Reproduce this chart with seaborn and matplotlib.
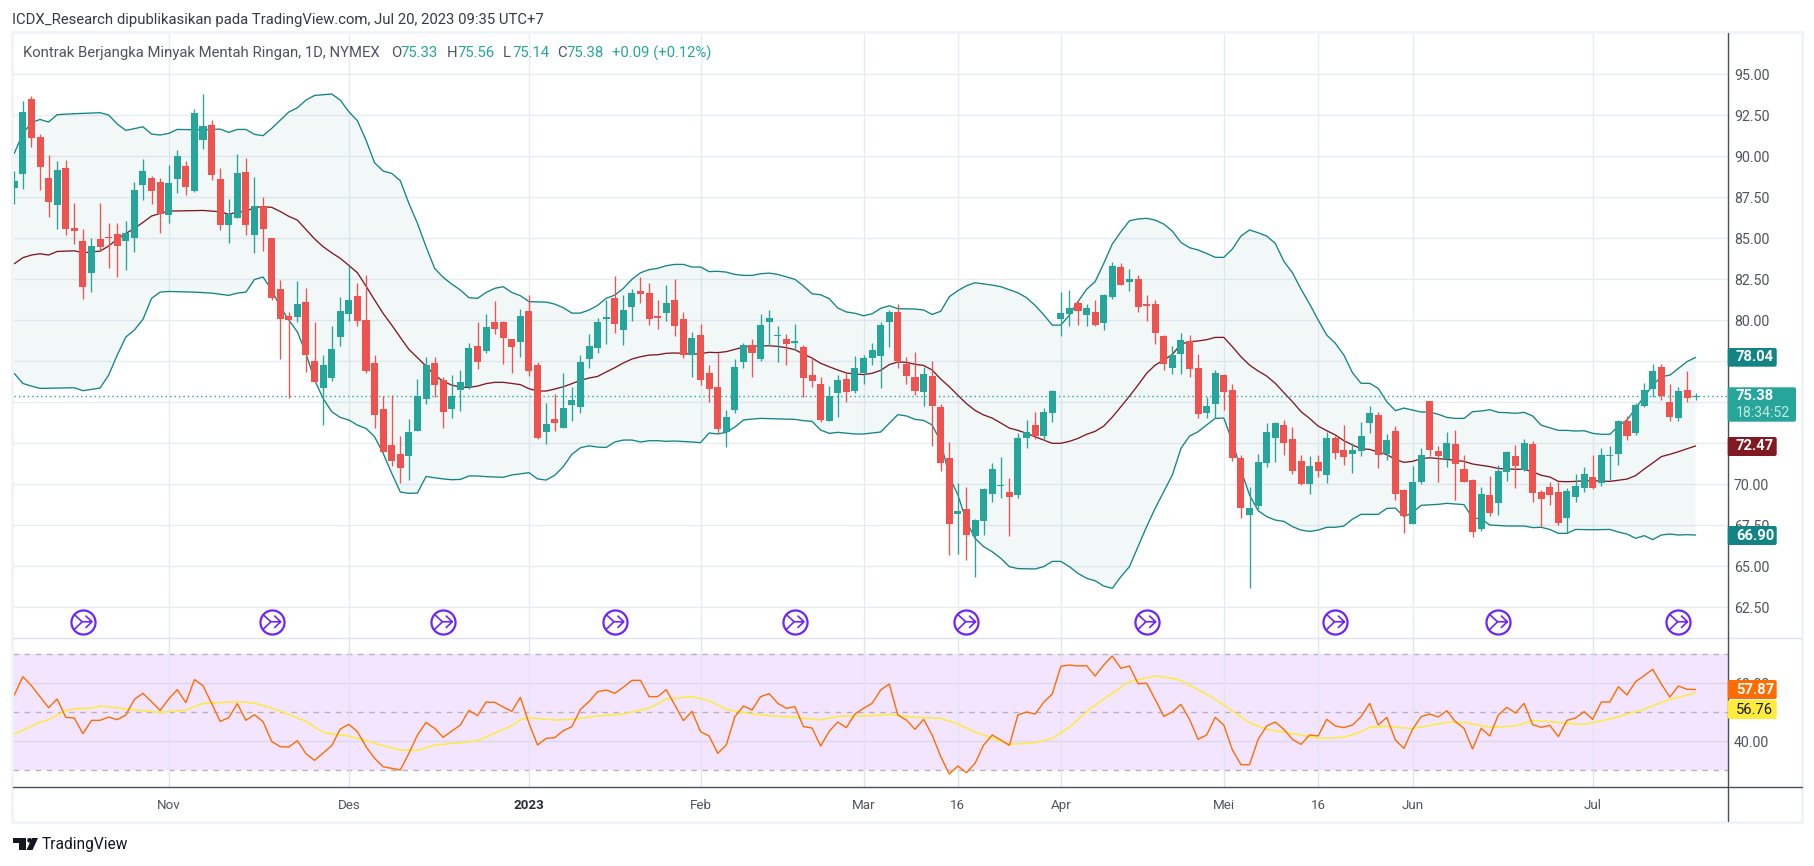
# -*- coding: utf-8 -*-
import matplotlib
matplotlib.use("Agg")
import matplotlib.pyplot as plt
from matplotlib.patches import FancyBboxPatch, Rectangle, Circle, Polygon
from matplotlib.path import Path
import pandas as pd
import seaborn as sns

# daily candles
opens = [88.06, 88.92, 93.49, 91.17, 88.67, 87.03, 89.28, 85.63, 84.83, 82.88,
         84.95, 85.08, 85.26, 84.83, 85.02, 88.25, 88.67, 88.43, 86.42, 88.61,
         89.41, 87.88, 91.00, 91.91, 88.61, 85.81, 86.24, 89.04, 85.20, 86.97,
         85.02, 81.91, 80.26, 80.20, 81.11, 77.52, 75.87, 76.48, 78.98, 80.38,
         81.48, 80.02, 77.39, 74.59, 72.39, 71.84, 71.72, 73.25, 75.20, 77.39,
         76.36, 74.59, 75.75, 75.93, 78.43, 78.12, 79.90, 79.90, 78.86, 78.68,
         80.57, 77.27, 73.19, 73.98, 73.43, 74.84, 74.71, 77.64, 78.31, 80.08,
         81.36, 79.41, 80.81, 81.79, 81.66, 80.26, 80.44, 81.24, 80.08, 77.88,
         79.10, 76.79, 75.93, 73.19, 74.53, 77.46, 78.49, 77.64, 79.90, 79.04,
         78.86, 78.62, 78.37, 76.66, 76.11, 73.86, 75.57, 76.42, 75.69, 76.79,
         77.70, 77.82, 79.90, 80.50, 77.33, 76.54, 75.63, 76.60, 74.71, 71.60,
         68.19, 68.49, 66.85, 67.76, 69.41, 69.90, 69.53, 69.35, 72.82, 73.62,
         72.94, 74.35, 80.08, 80.38, 81.05, 80.32, 80.50, 79.84, 81.42, 83.25,
         82.33, 82.52, 80.99, 80.99, 79.04, 77.09, 77.94, 78.74, 77.09, 74.35,
         74.90, 76.66, 75.75, 71.60, 68.13, 68.68, 71.30, 72.82, 73.62, 72.76,
         71.42, 70.02, 71.36, 70.57, 72.82, 72.09, 71.85, 72.03, 73.74, 74.23,
         71.85, 73.25, 69.65, 67.58, 70.14, 75.08, 72.03, 71.54, 72.46, 70.93,
         70.26, 67.27, 69.35, 68.86, 70.75, 71.73, 70.87, 72.46, 69.53, 69.84,
         69.53, 67.95, 69.23, 69.77, 70.45, 70.08, 71.73, 71.85, 73.86, 73.13,
         74.77, 75.81, 77.15, 75.02, 74.04, 75.75, 75.33]
highs = [89.10, 93.37, 93.67, 91.36, 90.08, 89.71, 89.77, 87.15, 85.56, 85.02,
         87.15, 85.93, 85.93, 86.05, 88.43, 89.83, 88.80, 88.67, 89.47, 90.38,
         89.71, 92.88, 93.80, 92.21, 89.28, 87.39, 90.14, 89.89, 88.74, 87.52,
         85.02, 82.45, 80.50, 82.39, 81.97, 79.89, 77.88, 79.65, 81.42, 83.31,
         82.27, 82.76, 77.88, 75.38, 75.44, 72.94, 73.98, 76.42, 77.76, 77.76,
         76.54, 76.66, 76.97, 78.62, 79.90, 80.38, 81.18, 79.96, 78.86, 80.69,
         81.54, 77.46, 74.96, 75.51, 76.79, 75.93, 77.88, 79.17, 80.14, 81.24,
         82.70, 81.54, 81.91, 82.64, 82.27, 81.24, 82.15, 82.52, 80.50, 79.29,
         79.77, 77.27, 78.01, 74.53, 77.64, 78.62, 78.86, 80.38, 80.63, 79.65,
         79.17, 79.77, 78.49, 77.70, 76.54, 75.99, 76.66, 76.85, 77.82, 77.88,
         78.62, 79.90, 80.63, 80.99, 77.76, 78.07, 77.15, 77.52, 74.90, 72.58,
         70.06, 69.84, 67.88, 69.77, 71.30, 71.66, 70.38, 73.13, 73.92, 74.41,
         74.65, 75.75, 81.72, 81.85, 81.24, 80.99, 81.24, 81.60, 83.55, 83.49,
         83.13, 82.76, 81.54, 81.24, 79.10, 78.43, 79.22, 79.10, 77.94, 75.32,
         76.97, 76.73, 76.11, 71.79, 69.84, 71.85, 73.74, 73.80, 73.92, 73.49,
         71.79, 71.73, 71.79, 73.19, 72.95, 73.62, 72.52, 73.80, 74.77, 74.41,
         73.07, 73.55, 69.71, 71.12, 72.21, 75.08, 72.34, 73.19, 73.31, 71.79,
         70.32, 69.84, 70.51, 71.18, 72.03, 72.40, 72.76, 72.64, 69.65, 70.14,
         70.14, 69.77, 70.63, 71.05, 71.79, 72.21, 72.34, 73.92, 74.17, 74.96,
         76.18, 77.33, 77.33, 76.12, 75.93, 76.91, 75.56]
lows = [87.09, 88.00, 90.56, 87.94, 86.30, 85.56, 85.20, 84.65, 81.30, 81.72,
        84.22, 83.19, 82.64, 83.06, 84.16, 87.33, 87.09, 85.32, 85.93, 87.76,
        87.64, 87.82, 90.44, 88.55, 85.50, 84.71, 86.24, 85.20, 84.10, 84.22,
        81.24, 77.64, 75.26, 79.89, 76.85, 76.24, 73.61, 76.30, 78.43, 79.95,
        79.65, 76.78, 73.43, 71.97, 71.11, 70.08, 70.26, 73.25, 74.89, 75.32,
        73.43, 74.04, 74.47, 75.81, 77.03, 78.01, 79.17, 77.33, 76.79, 77.76,
        76.60, 72.76, 72.46, 73.25, 73.43, 73.86, 74.35, 77.09, 78.01, 78.55,
        79.22, 78.49, 79.96, 81.05, 79.71, 79.47, 79.96, 79.04, 77.70, 76.54,
        76.05, 75.02, 73.13, 72.27, 74.35, 77.09, 76.54, 77.52, 78.43, 77.46,
        77.27, 78.19, 75.32, 75.93, 73.80, 73.86, 74.10, 75.02, 75.57, 76.11,
        77.27, 75.87, 78.37, 77.09, 76.11, 75.45, 74.77, 72.34, 70.81, 65.69,
        65.75, 65.38, 64.35, 66.91, 68.92, 69.16, 66.85, 69.16, 72.21, 72.76,
        72.70, 73.80, 79.04, 79.65, 79.71, 79.65, 79.65, 79.41, 81.30, 82.15,
        81.79, 80.50, 79.96, 78.55, 76.97, 76.73, 76.73, 76.54, 74.04, 74.04,
        74.04, 74.53, 71.42, 67.95, 63.68, 68.49, 71.05, 71.36, 71.79, 70.63,
        69.96, 69.41, 70.44, 70.08, 71.54, 71.18, 70.69, 71.73, 73.13, 70.99,
        71.48, 69.04, 67.03, 67.58, 70.02, 71.73, 70.14, 71.05, 69.04, 70.14,
        66.79, 67.15, 68.07, 68.13, 70.20, 69.77, 70.81, 68.92, 67.40, 68.74,
        67.52, 67.03, 68.92, 69.53, 69.71, 69.90, 70.26, 71.18, 72.70, 73.01,
        74.71, 75.32, 75.14, 73.86, 73.86, 75.02, 75.14]
closes = [88.49, 92.70, 91.11, 89.34, 87.21, 89.16, 85.56, 85.44, 82.03, 84.53,
          84.47, 85.02, 84.53, 85.32, 87.94, 89.10, 87.88, 86.48, 88.37, 90.02,
          88.13, 92.64, 91.85, 88.86, 85.81, 86.48, 88.98, 85.81, 86.97, 85.56,
          81.36, 80.08, 80.02, 80.99, 77.88, 76.24, 77.27, 78.25, 80.56, 81.24,
          79.95, 76.90, 74.22, 71.97, 71.42, 70.99, 73.19, 75.38, 77.27, 76.05,
          74.41, 75.38, 76.24, 78.31, 77.46, 79.59, 79.47, 78.92, 78.37, 80.26,
          76.91, 72.82, 73.68, 73.74, 74.65, 75.14, 77.46, 78.43, 79.90, 80.20,
          79.77, 80.63, 81.66, 81.60, 80.08, 80.14, 81.05, 79.65, 77.88, 78.92,
          76.36, 75.81, 73.37, 74.10, 77.15, 78.49, 78.01, 79.71, 80.14, 79.10,
          78.55, 78.74, 76.48, 76.30, 73.92, 75.38, 76.36, 75.63, 77.09, 77.70,
          78.19, 79.71, 80.50, 77.52, 76.60, 75.69, 76.73, 74.77, 71.30, 67.58,
          68.37, 66.91, 67.82, 69.71, 70.93, 69.96, 69.22, 72.82, 73.19, 72.94,
          74.41, 75.69, 80.44, 80.75, 80.57, 80.75, 79.71, 81.54, 83.31, 82.15,
          82.52, 80.81, 80.87, 79.22, 77.33, 77.88, 78.80, 77.03, 74.29, 74.77,
          76.79, 75.63, 71.60, 68.55, 68.55, 71.36, 73.19, 73.74, 72.52, 70.81,
          70.02, 71.12, 70.81, 72.82, 71.91, 71.67, 72.09, 72.95, 74.35, 71.79,
          72.70, 69.41, 68.07, 70.14, 71.79, 72.09, 71.73, 72.52, 71.24, 70.14,
          67.09, 69.41, 68.25, 70.81, 71.97, 71.12, 72.52, 69.47, 69.10, 69.35,
          67.64, 69.59, 69.90, 70.63, 69.77, 71.79, 71.79, 73.86, 72.95, 74.83,
          75.75, 76.91, 75.38, 74.10, 75.69, 75.26, 75.38]

# Bollinger bands: bar number and value of each vertex
upper_idx = [0, 1, 2, 3, 4, 5, 7, 10, 11, 12, 13, 15, 16, 17, 18, 19, 21, 22, 24, 25, 26, 27, 28, 29, 30, 32, 33, 34, 35, 37,
             38, 39, 40, 41, 42, 43, 44, 45, 46, 47, 48, 49, 50, 51, 52, 53, 54, 55, 56, 57, 58, 59, 60, 62, 63, 64, 65, 66, 67, 68,
             69, 70, 71, 72, 73, 74, 75, 76, 77, 78, 79, 80, 81, 82, 83, 84, 85, 86, 87, 88, 89, 91, 92, 93, 94, 95, 96, 97, 98, 99,
             100, 101, 102, 103, 105, 106, 107, 108, 109, 110, 111, 112, 114, 115, 117, 118, 119, 120, 121, 122, 123, 124, 125, 126,
             127, 128, 129, 130, 131, 132, 133, 134, 135, 136, 137, 138, 139, 140, 141, 142, 143, 144, 145, 146, 147, 148, 149, 150,
             151, 152, 153, 154, 155, 156, 157, 158, 159, 160, 161, 162, 163, 164, 165, 166, 167, 168, 169, 170, 171, 172, 173, 174,
             175, 176, 177, 178, 179, 180, 181, 182, 183, 184, 185, 186, 187, 188, 189, 190, 191, 192, 193, 194, 195, 196]
upper_vals = [90.18, 91.40, 92.05, 92.25, 92.09, 92.54, 92.60, 92.66, 92.52, 91.97, 91.58, 91.80, 91.36, 91.30, 91.40, 91.64,
              91.62, 91.62, 91.66, 91.46, 91.64, 91.64, 91.34, 91.26, 91.70, 92.70, 92.96, 93.43, 93.71, 93.80,
              93.43, 92.72, 92.17, 90.99, 89.61, 89.10, 88.96, 88.51, 87.13, 85.91, 84.49, 83.17, 82.62, 82.21, 81.85, 81.38,
              81.34, 81.70, 81.95, 82.05, 81.70, 81.50, 81.14, 81.11, 80.99, 80.77, 80.44, 80.44, 80.63, 80.91,
              81.34, 81.54, 81.95, 82.50, 82.90, 83.09, 83.17, 83.33, 83.41, 83.41, 83.25, 83.25, 82.97, 82.99, 82.94, 82.80,
              82.74, 82.74, 82.84, 82.88, 82.80, 82.50, 82.09, 81.62, 81.56, 81.32, 80.75, 80.51, 80.43, 80.28,
              80.40, 80.73, 80.89, 80.71, 80.69, 80.63, 80.36, 80.55, 81.44, 81.81, 82.11, 82.29, 82.15, 82.05, 81.68, 81.38,
              80.91, 80.34, 79.71, 79.71, 80.32, 81.14, 81.89, 82.36,
              83.47, 84.65, 85.40, 86.07, 86.18, 86.22, 86.11, 85.87, 85.44, 84.75, 84.43, 84.29, 84.08, 83.84, 83.84, 84.35,
              85.14, 85.51, 85.34, 85.14, 84.69, 83.60, 82.90, 81.90,
              81.00, 80.02, 79.10, 78.60, 77.88, 76.80, 76.16, 76.16, 75.85, 75.04, 74.49, 74.65, 74.53, 74.41, 74.41, 74.27,
              74.08, 74.02, 74.02, 74.43, 74.47, 74.55, 74.39, 74.37,
              74.33, 74.39, 74.17, 73.60, 73.45, 73.29, 73.29, 73.25, 73.27, 73.11, 73.05, 73.05, 73.55, 73.92, 74.63, 75.34,
              76.05, 76.56, 76.66, 77.07, 77.48, 77.74]
middle_idx = [0, 1, 2, 3, 4, 5, 7, 8, 10, 11, 12, 13, 14, 15, 16, 17, 18, 22, 24, 25, 26, 27, 28, 29, 30, 31, 32, 33, 34, 35,
              36, 37, 38, 39, 40, 41, 42, 43, 44, 45, 46, 47, 48, 49, 50, 51, 52, 53, 54, 55, 56, 57, 59, 60, 61, 62, 63, 64, 65, 66,
              67, 68, 69, 70, 71, 72, 73, 74, 75, 76, 77, 78, 79, 80, 81, 82, 83, 84, 85, 86, 88, 89, 90, 91, 92, 93, 94, 95, 96, 97,
              98, 99, 100, 101, 102, 103, 104, 105, 106, 107, 108, 109, 110, 111, 112, 113, 114, 115, 116, 117, 118, 119, 120, 121,
              122, 123, 124, 125, 126, 127, 128, 129, 130, 131, 132, 133, 134, 135, 136, 137, 138, 139, 140, 141, 142, 143, 144, 145,
              146, 147, 148, 149, 150, 151, 152, 153, 154, 155, 156, 157, 158, 159, 160, 161, 162, 163, 164, 165, 167, 169, 170, 172,
              173, 174, 176, 177, 178, 179, 180, 181, 182, 183, 184, 186, 188, 189, 190, 191, 192, 193, 194, 195, 196]
middle_vals = [83.45, 83.82, 83.98, 84.06, 83.98, 84.20, 84.24, 84.12, 84.22, 84.53, 84.95, 85.30, 85.60, 85.97, 86.36, 86.52,
               86.66, 86.70, 86.62, 86.46, 86.60, 86.64, 86.89, 86.93, 86.89, 86.64, 86.34, 86.11, 85.54, 84.97,
               84.49, 84.12, 83.78, 83.35, 82.90, 82.09, 81.24, 80.42, 79.71, 78.96, 78.23, 77.72, 77.21, 76.66, 76.28, 76.05,
               75.93, 75.91, 75.99, 76.14, 76.22, 76.22, 76.08, 75.83, 75.69, 75.69, 75.81, 75.95, 76.14, 76.34,
               76.48, 76.58, 76.85, 77.11, 77.40, 77.64, 77.78, 77.88, 77.90, 77.99, 78.01, 77.99, 77.94, 77.97, 78.05, 78.03,
               78.09, 78.23, 78.37, 78.43, 78.45, 78.41, 78.33, 78.21, 77.94, 77.70, 77.38, 77.17, 76.97, 76.79,
               76.73, 76.69, 76.77, 76.95, 77.30, 77.46, 77.44, 77.32, 77.25, 76.97, 76.42, 75.95, 75.43, 74.92, 74.51, 74.23,
               74.04, 73.74, 73.43, 73.29, 73.11, 72.90, 72.70, 72.50,
               72.50, 72.62, 72.80, 73.05, 73.23, 73.55, 74.10, 74.73, 75.38, 76.05, 76.77, 77.27, 77.58, 77.92, 78.55, 78.70,
               78.74, 78.82, 78.96, 78.96, 78.39, 77.78, 77.27, 76.91,
               76.60, 76.16, 75.59, 75.04, 74.43, 74.02, 73.55, 73.27, 73.01, 72.66, 72.40, 72.17, 72.13, 71.97, 71.81, 71.52,
               71.34, 71.40, 71.56, 71.62, 71.52, 71.40, 71.24, 71.08,
               70.97, 70.93, 70.91, 70.77, 70.55, 70.45, 70.18, 70.16, 70.18, 70.22, 70.22, 70.18, 70.32, 70.53, 70.93, 71.30,
               71.69, 71.83, 71.99, 72.17, 72.34]
lower_idx = [0, 1, 2, 3, 7, 8, 10, 11, 12, 13, 14, 15, 16, 17, 18, 21, 23, 25, 26, 27, 28, 29, 30, 31, 32, 33, 34, 35, 36, 37,
             38, 39, 40, 41, 42, 43, 44, 45, 46, 47, 48, 49, 50, 51, 52, 53, 54, 55, 56, 57, 58, 60, 61, 62, 63, 64, 65, 66, 67, 68,
             69, 70, 71, 72, 73, 74, 75, 76, 77, 79, 80, 81, 82, 83, 84, 85, 86, 87, 91, 92, 93, 94, 95, 96, 98, 99, 101, 102, 103, 104,
             105, 106, 107, 108, 109, 110, 111, 112, 113, 114, 115, 116, 117, 119, 120, 121, 122, 123, 124, 125, 126, 127, 128, 129,
             130, 131, 132, 133, 134, 135, 136, 137, 138, 139, 140, 141, 142, 143, 144, 145, 146, 147, 148, 149, 150, 151, 152, 153,
             154, 155, 156, 157, 159, 160, 161, 162, 163, 164, 166, 167, 169, 170, 171, 172, 174, 176, 177, 178, 179, 180, 181, 182,
             184, 186, 187, 188, 189, 190, 191, 192, 193, 194, 195, 196]
lower_vals = [76.76, 76.15, 75.99, 75.85, 75.89, 75.71, 75.87, 76.66, 77.88, 78.98, 79.41, 80.06, 81.34, 81.72, 81.76, 81.72,
              81.66, 81.52, 81.66, 81.72, 82.49, 82.64, 81.85, 80.83, 80.02, 79.30, 77.98, 76.36, 75.24, 74.43,
              74.08, 73.92, 73.61, 73.41, 72.90, 71.89, 70.67, 69.53, 69.45, 69.47, 70.48, 70.40, 70.33, 70.28, 70.30, 70.51,
              70.51, 70.47, 70.45, 70.43, 70.57, 70.71, 70.33, 70.26, 70.55, 71.08, 71.83, 72.23, 72.35, 72.27,
              72.25, 72.58, 72.70, 72.70, 72.58, 72.66, 72.66, 72.62, 72.64, 72.58, 72.54, 73.13, 73.07, 73.17, 73.49, 73.92,
              73.98, 74.02, 73.96, 73.88, 73.84, 73.31, 73.11, 73.17, 73.07, 73.07, 73.19, 73.72, 74.25, 74.17,
              73.96, 73.90, 73.62, 72.60, 70.47, 69.35, 67.72, 66.71, 66.20, 65.89, 65.49, 64.98, 64.86, 64.84, 64.98, 65.30,
              65.30, 64.98, 64.57, 64.27, 64.12, 63.80, 63.66, 64.37,
              64.98, 66.20, 67.42, 68.54, 69.55, 70.57, 72.19, 72.94, 73.21, 73.62, 74.02, 74.04, 72.60, 70.87, 69.35, 68.39,
              68.03, 67.82, 67.74, 67.42, 67.21, 67.13, 67.21, 67.38,
              67.38, 67.46, 67.88, 68.17, 68.17, 68.53, 68.55, 68.03, 68.27, 68.72, 68.78, 68.84, 68.76, 67.94, 67.90, 67.52,
              67.46, 67.46, 67.36, 67.38, 67.25, 67.01, 67.01, 67.25,
              67.23, 67.25, 67.09, 66.97, 66.71, 66.87, 66.63, 66.91, 66.97, 66.91, 66.93, 66.91]

# RSI per bar and its moving average
rsi_vals = [55.96, 62.28, 59.18, 55.38, 51.59, 54.58, 48.26, 48.03, 42.63, 47.22,
            47.22, 48.37, 47.45, 49.06, 54.46, 56.53, 53.66, 50.67, 54.58, 57.80,
            53.31, 61.25, 59.18, 53.09, 46.88, 48.14, 52.97, 47.22, 49.18, 46.76,
            39.98, 38.14, 38.03, 40.21, 35.73, 33.43, 35.96, 38.49, 44.23, 45.84,
            43.32, 38.14, 34.12, 31.25, 30.67, 30.10, 35.84, 42.17, 46.53, 44.47,
            41.36, 43.54, 45.61, 50.67, 48.83, 53.55, 53.43, 51.82, 50.33, 55.15,
            46.19, 38.72, 41.02, 41.25, 43.67, 45.05, 51.02, 53.67, 57.11, 57.69,
            56.54, 58.61, 61.02, 61.02, 55.39, 55.39, 57.80, 52.52, 47.11, 50.33,
            43.32, 41.83, 35.85, 38.72, 48.49, 52.17, 50.79, 55.39, 56.42, 53.09,
            51.37, 51.94, 45.05, 44.59, 38.38, 43.44, 46.66, 44.70, 49.41, 51.37,
            53.09, 57.69, 59.76, 49.07, 47.34, 44.13, 47.57, 42.17, 34.70, 28.72,
            31.48, 29.18, 32.40, 38.72, 42.17, 40.45, 38.61, 49.07, 50.10, 49.41,
            53.44, 56.31, 65.85, 66.31, 65.97, 66.08, 62.52, 66.31, 69.41, 65.16,
            65.97, 59.87, 59.99, 54.47, 48.61, 50.10, 52.75, 47.57, 40.68, 42.17,
            48.26, 45.62, 37.00, 31.94, 31.94, 40.68, 45.28, 46.66, 44.13, 40.68,
            38.95, 42.17, 41.83, 47.57, 45.28, 44.70, 45.62, 48.49, 53.09, 45.62,
            48.26, 40.45, 37.57, 44.13, 48.49, 49.41, 48.38, 50.56, 46.77, 44.47,
            37.34, 44.47, 41.83, 49.07, 51.71, 49.76, 53.09, 45.74, 44.82, 45.51,
            41.60, 47.23, 48.03, 50.22, 47.57, 53.55, 53.55, 58.84, 55.97, 60.56,
            62.63, 64.82, 59.76, 55.28, 59.07, 57.92, 57.87]
rsi_ma_idx = [0, 3, 4, 6, 7, 9, 10, 15, 17, 20, 22, 26, 28, 31, 34, 36, 39, 43, 45, 47, 49, 52, 54, 58, 59, 60,
              63, 65, 68, 71, 74, 76, 79, 81, 83, 86, 88, 91, 94, 96, 100, 102, 105, 108, 110, 112, 116, 119, 121,
              123, 125, 127, 130, 133, 135, 136, 139, 140, 144, 146, 150, 152, 155, 157, 158, 160, 163, 167, 169,
              172, 175, 177, 179, 182, 183, 186, 190, 192, 193, 195, 196]
rsi_ma_vals = [42.51, 46.53, 47.45, 50.56, 51.25, 51.36, 52.17, 50.56, 49.98, 50.79, 53.09, 53.66, 53.20, 50.44, 46.88,
               42.97, 41.82, 38.49, 36.99, 36.88, 38.72, 39.52, 40.21, 45.38, 47.45, 48.14,
               47.34, 47.57, 48.72, 49.41, 51.37, 54.59, 55.39, 54.01, 51.02, 49.41, 48.84, 48.26, 47.34, 48.61, 48.84,
               49.30, 48.26, 47.92, 45.97, 43.21, 38.95, 39.53, 41.02,
               44.82, 50.22, 54.59, 60.56, 62.52, 61.71, 60.91, 56.20, 54.47, 46.43, 44.13, 42.17, 41.02, 41.37, 43.32,
               44.82, 45.16, 44.36, 46.54, 46.54,
               44.82, 45.28, 47.11, 46.77, 45.97, 45.85, 47.69, 51.02, 53.44, 54.47, 55.97, 56.76]

# axis labels and events
month_idx = [18, 39, 60, 80, 99, 110, 122, 141, 152, 163, 184]
month_labels = ["Nov", "Des", "2023", "Feb", "Mar", "16", "Apr", "Mei", "16", "Jun", "Jul"]
price_ticks = [62.5, 65, 67.5, 70, 72.5, 75, 77.5, 80, 82.5, 85, 87.5, 90, 92.5, 95]
# these three sit fully under a price tag, so the picture shows no text for them
hidden_ticks = [72.5, 75, 77.5]
rsi_ticks = [40, 60]
event_idx = [8, 30, 50, 70, 91, 111, 132, 154, 173, 194]
event_price = 61.62
last_price = 75.38

UP = "#26A69A"
DOWN = "#EF5350"
BAND = "#138484"
MID = "#801922"
GRID = "#E6EDF2"
TEXT = "#50535E"

sns.set_theme(style="white")
plt.rcParams["font.family"] = ["Roboto", "DejaVu Sans"]

W, H = 1815, 866
fig = plt.figure(figsize=(W / 100, H / 100), dpi=100, facecolor="white")


def pane(left, top, right, bottom):
    """ Axes placed by pixel edges """
    return fig.add_axes([left / W, 1 - bottom / H, (right - left) / W, (bottom - top) / H])


def pill(x, top, right, bottom, color):
    """ Price tag on the right axis """
    ov.add_patch(FancyBboxPatch((x, top), right - x, bottom - top,
                                boxstyle="round,pad=0,rounding_size=2",
                                fc=color, ec="none", zorder=6))


ax = pane(13, 33, 1727.7, 638)
ax_rsi = pane(13, 638, 1727.7, 787)

df = pd.DataFrame({"open": opens, "high": highs, "low": lows, "close": closes})
df["bar"] = df.index
bar_colors = [UP if c >= o else DOWN for o, c in zip(df["open"], df["close"])]

# band fill first, lines next, candles on top
ax.fill(upper_idx + lower_idx[::-1], upper_vals + lower_vals[::-1],
        color=BAND, alpha=0.05, lw=0, zorder=1)
sns.lineplot(x=upper_idx, y=upper_vals, ax=ax, color=BAND, lw=0.95, zorder=2)
sns.lineplot(x=lower_idx, y=lower_vals, ax=ax, color=BAND, lw=0.95, zorder=2)
sns.lineplot(x=middle_idx, y=middle_vals, ax=ax, color=MID, lw=0.95, zorder=2)
ax.plot([df["bar"].iloc[0], 210], [last_price, last_price], color=UP, lw=1.0,
        ls=(0, (1, 2.2)), zorder=2.5)
ax.vlines(df["bar"], df["low"], df["high"], colors=bar_colors, lw=0.95, zorder=3)
ax.bar(df["bar"], (df["close"] - df["open"]).abs(), bottom=df[["open", "close"]].min(axis=1),
       width=0.82, color=bar_colors, lw=0, zorder=4)

# the purple event badges
glyph = Path([(-0.62, 0.52), (-0.05, 0.0), (-0.62, -0.55), (-0.05, 0.0), (0.62, 0.0),
              (0.18, 0.42), (0.62, 0.0), (0.18, -0.42)],
             [Path.MOVETO, Path.LINETO, Path.MOVETO, Path.LINETO, Path.LINETO,
              Path.MOVETO, Path.LINETO, Path.LINETO])
ax.scatter(event_idx, [event_price] * len(event_idx), s=300, facecolor="white",
           edgecolor="#6E24FF", lw=1.6, zorder=5)
ax.scatter(event_idx, [event_price] * len(event_idx), s=170, marker=glyph, facecolor="none",
           edgecolor="#6E24FF", lw=1.2, zorder=6)

ax.set_xlim(-0.15, 199.74)
ax.set_ylim(60.63, 97.52)
ax.set_xticks(month_idx)
ax.set_xticklabels([])
ax.set_yticks(price_ticks)
ax.set_yticklabels(["" if p in hidden_ticks else "%.2f" % p for p in price_ticks],
                   fontsize=10.2, color=TEXT)
ax.yaxis.tick_right()
ax.tick_params(axis="both", length=0, pad=4.5)
ax.grid(True, color=GRID, lw=1.0)
ax.set_axisbelow(True)

# RSI pane
ax_rsi.axhspan(30, 70, color="#F3E5FD", lw=0, zorder=0)
for level in [40, 60]:
    ax_rsi.axhline(level, color="#DDD6F0", lw=1.0, zorder=1)
for level in [30, 50, 70]:
    ax_rsi.axhline(level, color="#B8B0C2", lw=1.0, ls=(0, (4, 4)), zorder=1)
for m in month_idx:
    ax_rsi.axvline(m, color="#E0E3F2", lw=1.0, zorder=1)
sns.lineplot(x=rsi_ma_idx, y=rsi_ma_vals, ax=ax_rsi, color="#FFEB3B", lw=1.1, zorder=2)
sns.lineplot(x=df["bar"].tolist(), y=rsi_vals, ax=ax_rsi, color="#FF6D00", lw=1.0, zorder=3)
ax_rsi.set_xlim(-0.15, 199.74)
ax_rsi.set_ylim(24.24, 75.62)
ax_rsi.set_xticks(month_idx)
ax_rsi.set_xticklabels(month_labels, fontsize=9.6, color=TEXT)
for lab in ax_rsi.get_xticklabels():
    if lab.get_text() == "2023":
        lab.set_fontweight("bold")
        lab.set_color("#2A2E39")
ax_rsi.set_yticks(rsi_ticks)
ax_rsi.set_yticklabels(["%.2f" % p for p in rsi_ticks], fontsize=10.2, color=TEXT)
ax_rsi.yaxis.tick_right()
ax_rsi.tick_params(axis="y", length=0, pad=4.5)
ax_rsi.tick_params(axis="x", length=0, pad=8.5)

for a in (ax, ax_rsi):
    sns.despine(ax=a, left=True, right=True, top=True, bottom=True)

# pixel layer for the frame, the header and the price tags
ov = fig.add_axes([0, 0, 1, 1], facecolor="none")
ov.set_xlim(0, W)
ov.set_ylim(H, 0)
ov.axis("off")
ov.add_patch(Rectangle((12, 32), 1790, 790, fc="none", ec="#F0F3FA", lw=2.0))
ov.plot([13, 1802], [638, 638], color="#E0E3EB", lw=1.0)
ov.plot([13, 1802], [787, 787], color="#4A4E58", lw=1.0)
ov.plot([1727.7, 1727.7], [33, 821], color="#4A4E58", lw=1.0)

ov.text(12, 20, "ICDX_Research dipublikasikan pada TradingView.com, Jul 20, 2023 09:35 UTC+7",
        fontsize=10.76, color="#363A45", va="center")
ov.text(23, 53, "Kontrak Berjangka Minyak Mentah Ringan, 1D, NYMEX", fontsize=10.7, color=TEXT, va="center")
for x, s in [(391, "O"), (447, "H"), (503, "L"), (557, "C")]:
    ov.text(x, 53, s, fontsize=10.7, color=TEXT, va="center")
for x, s in [(400, "75.33"), (457, "75.56"), (512, "75.14"), (566, "75.38"), (612, "+0.09 (+0.12%)")]:
    ov.text(x, 53, s, fontsize=10.7, color=UP, va="center")

# price tags
for s, top, bottom, color in [("78.04", 348, 366.7, BAND), ("72.47", 437, 456, MID), ("66.90", 526, 545, BAND),
                              ("57.87", 680, 699, "#FF6D00")]:
    pill(1727.7, top, 1776.7, bottom, color)
    ov.text(1736, (top + bottom) / 2, s, fontsize=10.6, fontweight="bold", color="white",
            va="center", zorder=7)
pill(1727.7, 700, 1776.7, 719, "#FFEB3B")
ov.text(1736, 709.5, "56.76", fontsize=10.6, color="#131722", va="center", zorder=7)
pill(1727.7, 387.3, 1796, 421.7, UP)
ov.text(1736, 396.5, "75.38", fontsize=10.6, fontweight="bold", color="white", va="center", zorder=7)
ov.text(1736, 413, "18:34:52", fontsize=10.2, color="#C4E8E4", va="center", zorder=7)

# TradingView mark and name at the bottom
ov.add_patch(Rectangle((13, 838), 13, 4.5, fc="#131722", ec="none"))
ov.add_patch(Rectangle((19, 838), 7, 12, fc="#131722", ec="none"))
ov.add_patch(Circle((29.5, 840.3), 2.3, fc="#131722", ec="none"))
ov.add_patch(Polygon([(32, 838), (38, 838), (32.5, 850), (26.5, 850)], fc="#131722", ec="none"))
ov.text(42, 845, "TradingView", fontsize=11.2, color="#131722", va="center")

fig.savefig("out.png", dpi=100)
